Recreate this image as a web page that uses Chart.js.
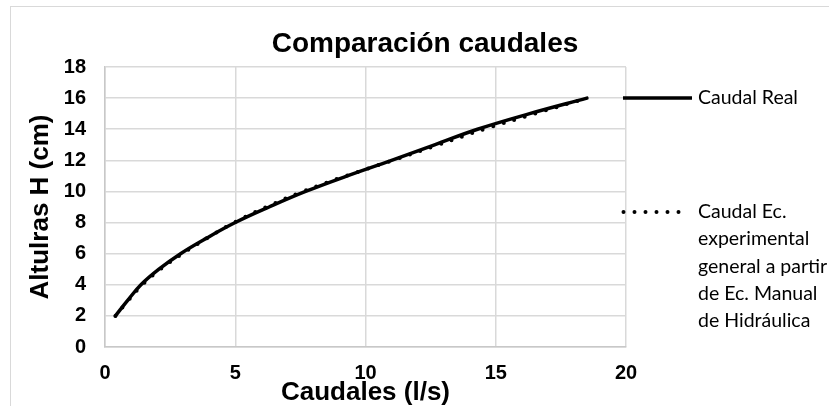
<!DOCTYPE html>
<html>
<head>
<meta charset="utf-8">
<script src="https://cdn.jsdelivr.net/npm/chart.js@4.4.1/dist/chart.umd.min.js"></script>
<style>
  html, body { margin: 0; padding: 0; background: #fff; }
  #wrap { width: 829px; height: 406px; }
</style>
</head>
<body>
<div id="wrap"><canvas id="chart" width="829" height="406"></canvas></div>
<script>
// alturas H (cm) y caudales (l/s)
const alturas = [2, 3, 4, 5, 6, 7, 8, 9, 10, 11, 12, 13, 14, 15, 16];
const caudalReal = [0.4, 0.87, 1.38, 2.07, 2.9, 3.9, 5.0, 6.3, 7.7, 9.3, 11.0, 12.65, 14.3, 16.3, 18.5];
const caudalEc = [0.4, 0.9, 1.43, 2.13, 2.97, 3.93, 4.95, 6.2, 7.6, 9.25, 11.05, 12.8, 14.55, 16.5, 18.5];

const tituloGrafico = "Comparación caudales";
const tituloX = "Caudales (l/s)";
const tituloY = "Altulras H (cm)";
const leyendaReal = "Caudal Real";
const leyendaEc = ["Caudal Ec.", "experimental", "general a partir", "de Ec. Manual", "de Hidráulica"];

function toPoints(xs, ys) {
  return xs.map(function (x, i) { return { x: x, y: ys[i] }; });
}

// fondo, marco, titulo y leyenda
const decor = {
  id: "decor",
  beforeDraw(chart) {
    const ctx = chart.ctx;
    ctx.save();
    ctx.fillStyle = "#fff";
    ctx.fillRect(0, 0, chart.width, chart.height);
    ctx.strokeStyle = "#d9d9d9";
    ctx.lineWidth = 1;
    ctx.strokeRect(10.5, 6.5, chart.width + 10, chart.height + 10);
    ctx.restore();
  },
  afterDraw(chart) {
    const ctx = chart.ctx;
    ctx.save();
    ctx.fillStyle = "#000";
    ctx.font = 'bold 28px "Liberation Sans", Arial, sans-serif';
    ctx.textAlign = "center";
    ctx.textBaseline = "alphabetic";
    ctx.fillText(tituloGrafico, 425, 52);

    // leyenda
    ctx.strokeStyle = "#000";
    ctx.lineWidth = 3.5;
    ctx.beginPath();
    ctx.moveTo(623, 98);
    ctx.lineTo(692, 98);
    ctx.stroke();

    ctx.lineWidth = 4;
    ctx.lineCap = "round";
    ctx.setLineDash([0, 11]);
    ctx.beginPath();
    ctx.moveTo(623.5, 212);
    ctx.lineTo(680, 212);
    ctx.stroke();
    ctx.setLineDash([]);

    ctx.font = '19.5px Lato, "Liberation Sans", sans-serif';
    ctx.textAlign = "left";
    ctx.textBaseline = "middle";
    ctx.fillText(leyendaReal, 698, 98);
    leyendaEc.forEach(function (t, i) {
      ctx.fillText(t, 698, 212 + i * 27.2);
    });
    ctx.restore();
  }
};

const ctx = document.getElementById("chart").getContext("2d");
new Chart(ctx, {
  type: "scatter",
  data: {
    datasets: [
      {
        label: leyendaReal,
        data: toPoints(caudalReal, alturas),
        showLine: true,
        borderColor: "#000",
        backgroundColor: "#000",
        borderWidth: 3.5,
        borderCapStyle: "round",
        pointRadius: 0,
        tension: 0.4,
      },
      {
        label: leyendaEc.join(" "),
        data: toPoints(caudalEc, alturas),
        showLine: true,
        borderColor: "#000",
        backgroundColor: "#000",
        borderWidth: 4,
        borderDash: [0, 11],
        borderCapStyle: "round",
        pointRadius: 0,
        tension: 0.4,
      },
    ],
  },
  options: {
    responsive: false,
    animation: false,
    layout: { padding: { top: 67, right: 203, bottom: 0, left: 0 } },
    plugins: {
      legend: { display: false },
      title: { display: false },
      tooltip: { enabled: false },
    },
    scales: {
      x: {
        type: "linear",
        min: 0,
        max: 20,
        ticks: {
          stepSize: 5,
          padding: 14,
          color: "#000",
          font: { family: '"Liberation Sans", Arial, sans-serif', size: 20, weight: "bold" },
        },
        grid: { color: "#d9d9d9", lineWidth: 1.5, drawTicks: false },
        border: { color: "#c8c8c8", width: 1.5 },
        title: {
          display: true,
          text: tituloX,
          color: "#000",
          padding: { top: 0, bottom: -2 },
          font: { family: '"Liberation Sans", Arial, sans-serif', size: 26, weight: "bold" },
        },
        afterFit: function (scale) { scale.height = 59; },
      },
      y: {
        type: "linear",
        min: 0,
        max: 18,
        ticks: {
          stepSize: 2,
          padding: 19,
          color: "#000",
          font: { family: '"Liberation Sans", Arial, sans-serif', size: 20, weight: "bold" },
        },
        grid: { color: "#d9d9d9", lineWidth: 1.5, drawTicks: false },
        border: { color: "#c8c8c8", width: 1.5 },
        title: {
          display: true,
          text: tituloY,
          color: "#000",
          padding: { top: 25, bottom: 0 },
          font: { family: '"Liberation Sans", Arial, sans-serif', size: 26, weight: "bold" },
        },
        afterFit: function (scale) { scale.width = 105; },
      },
    },
  },
  plugins: [decor],
});
</script>
</body>
</html>
